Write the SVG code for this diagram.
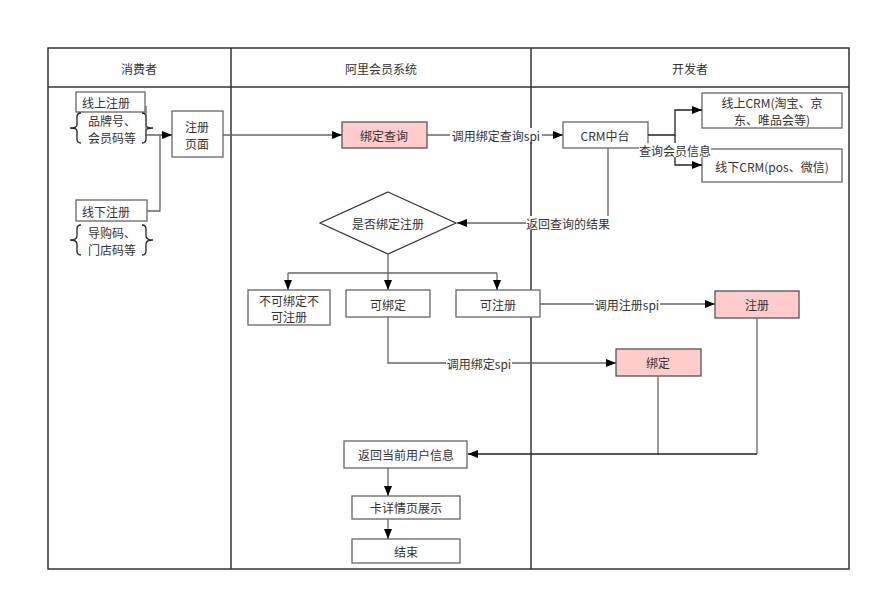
<svg xmlns="http://www.w3.org/2000/svg" width="881" height="602" viewBox="0 0 881 602">
<defs>
<marker id="arr" viewBox="0 0 10 10" refX="10" refY="5" markerWidth="10" markerHeight="10" markerUnits="userSpaceOnUse" orient="auto">
<path d="M0,1 L10,5 L0,9 Z" fill="#000"/>
</marker>
<style>
text{font-family:"Noto Sans CJK SC","Noto Sans",sans-serif;font-size:12px;fill:#333;text-anchor:middle;dominant-baseline:central}
.box{fill:#fff;stroke:#666;stroke-width:1.3}
.pink{fill:#ffcccc;stroke:#555;stroke-width:1.3}
.lane{fill:none;stroke:#333;stroke-width:1.5}
.ln{fill:none;stroke:#666;stroke-width:1.3}
.lnk{fill:none;stroke:#222;stroke-width:1.3}
.lbl{fill:#fff}
</style>
</defs>
<rect width="881" height="602" fill="#fff"/>
<g id="lanes">
<rect class="lane" x="48" y="48" width="801" height="521"/>
<line class="lane" x1="48" y1="87" x2="849" y2="87"/>
<line class="lane" x1="231" y1="48" x2="231" y2="569"/>
<line class="lane" x1="531" y1="48" x2="531" y2="569"/>
<text x="139" y="68">消费者</text>
<text x="381" y="68">阿里会员系统</text>
<text x="690" y="68">开发者</text>
</g>
<g id="online-reg">
<rect class="box" x="76" y="92" width="69" height="20"/>
<text x="106" y="102">线上注册</text>
</g>
<g id="online-codes">
<path class="lnk" d="M81,113 Q77,113 77,117 L77,125 Q77,128 70,128 Q77,128 77,131 L77,139 Q77,143 81,143"/>
<path class="lnk" d="M142,113 Q146,113 146,117 L146,125 Q146,128 153,128 Q146,128 146,131 L146,139 Q146,143 142,143"/>
<text x="112" y="120">品牌号、</text>
<text x="112" y="137">会员码等</text>
</g>
<g id="offline-reg">
<rect class="box" x="76" y="200" width="71" height="21"/>
<text x="106" y="211">线下注册</text>
</g>
<g id="offline-codes">
<path class="lnk" d="M81,225 Q77,225 77,229 L77,236 Q77,240 70,240 Q77,240 77,244 L77,251 Q77,255 81,255"/>
<path class="lnk" d="M142,225 Q146,225 146,229 L146,236 Q146,240 153,240 Q146,240 146,244 L146,251 Q146,255 142,255"/>
<text x="112" y="232">导购码、</text>
<text x="112" y="249">门店码等</text>
</g>
<g id="reg-page">
<rect class="box" x="172" y="111" width="51" height="46"/>
<text x="197" y="126">注册</text>
<text x="197" y="143">页面</text>
</g>
<g id="bind-query">
<rect class="pink" x="342" y="122" width="85" height="26"/>
<text x="384" y="135">绑定查询</text>
</g>
<g id="crm-hub">
<rect class="box" x="563" y="122" width="85" height="26"/>
<text x="605" y="135">CRM中台</text>
</g>
<g id="crm-online">
<rect class="box" x="702" y="93" width="140" height="35"/>
<text x="772" y="102">线上CRM(淘宝、京</text>
<text x="772" y="119">东、唯品会等)</text>
</g>
<g id="crm-offline">
<rect class="box" x="702" y="149" width="140" height="33"/>
<text x="772" y="166">线下CRM(pos、微信)</text>
</g>
<g id="decision">
<polygon points="388,192 456,223 388,254 320,223" fill="#fff" stroke="#333" stroke-width="1.2"/>
<text x="388" y="223">是否绑定注册</text>
</g>
<g id="no-bind">
<rect class="box" x="248" y="290" width="82" height="35"/>
<text x="289" y="300">不可绑定不</text>
<text x="289" y="316">可注册</text>
</g>
<g id="can-bind">
<rect class="box" x="346" y="290" width="84" height="27"/>
<text x="388" y="304">可绑定</text>
</g>
<g id="can-reg">
<rect class="box" x="456" y="290" width="84" height="27"/>
<text x="498" y="304">可注册</text>
</g>
<g id="register">
<rect class="pink" x="715" y="291" width="84" height="27"/>
<text x="757" y="304">注册</text>
</g>
<g id="bind">
<rect class="pink" x="616" y="349" width="85" height="27"/>
<text x="658" y="362">绑定</text>
</g>
<g id="return-info">
<rect class="box" x="344" y="441" width="123" height="27"/>
<text x="406" y="454">返回当前用户信息</text>
</g>
<g id="card-detail">
<rect class="box" x="352" y="496" width="108" height="23"/>
<text x="406" y="507">卡详情页展示</text>
</g>
<g id="end">
<rect class="box" x="352" y="539" width="108" height="24"/>
<text x="406" y="551">结束</text>
</g>
<g id="connectors">
<path class="ln" d="M146,106 L146,135 L172,135" marker-end="url(#arr)"/>
<path class="ln" d="M147,211 L160,211 L160,135"/>
<path class="ln" d="M223,135 L342,135" marker-end="url(#arr)"/>
<path class="ln" d="M427,135 L563,135" marker-end="url(#arr)"/>
<rect class="lbl" x="450" y="128" width="92" height="14"/>
<text x="496" y="135">调用绑定查询spi</text>
<path class="lnk" d="M648,135 L675,135 L675,110 L702,110" marker-end="url(#arr)"/>
<path class="lnk" d="M675,135 L675,165 L702,165" marker-end="url(#arr)"/>
<rect class="lbl" x="639" y="143" width="72" height="14"/>
<text x="675" y="150">查询会员信息</text>
<path class="ln" d="M608,148 L608,223 L457,223" marker-end="url(#arr)"/>
<rect class="lbl" x="526" y="216" width="84" height="14"/>
<text x="568" y="223">返回查询的结果</text>
<path class="ln" d="M388,254 L388,273"/>
<path class="ln" d="M288,273 L497,273"/>
<path class="ln" d="M288,273 L288,290" marker-end="url(#arr)"/>
<path class="ln" d="M388,273 L388,290" marker-end="url(#arr)"/>
<path class="ln" d="M497,273 L497,290" marker-end="url(#arr)"/>
<path class="ln" d="M388,317 L388,363 L616,363" marker-end="url(#arr)"/>
<rect class="lbl" x="446" y="356" width="66" height="14"/>
<text x="479" y="363">调用绑定spi</text>
<path class="ln" d="M540,304 L715,304" marker-end="url(#arr)"/>
<rect class="lbl" x="594" y="297" width="66" height="14"/>
<text x="627" y="304">调用注册spi</text>
<path class="ln" d="M658,376 L658,454"/>
<path class="ln" d="M757,318 L757,454"/>
<path class="lnk" d="M757,454 L468,454" marker-end="url(#arr)"/>
<path class="ln" d="M388,468 L388,496" marker-end="url(#arr)"/>
<path class="ln" d="M388,519 L388,539" marker-end="url(#arr)"/>
</g>
</svg>
